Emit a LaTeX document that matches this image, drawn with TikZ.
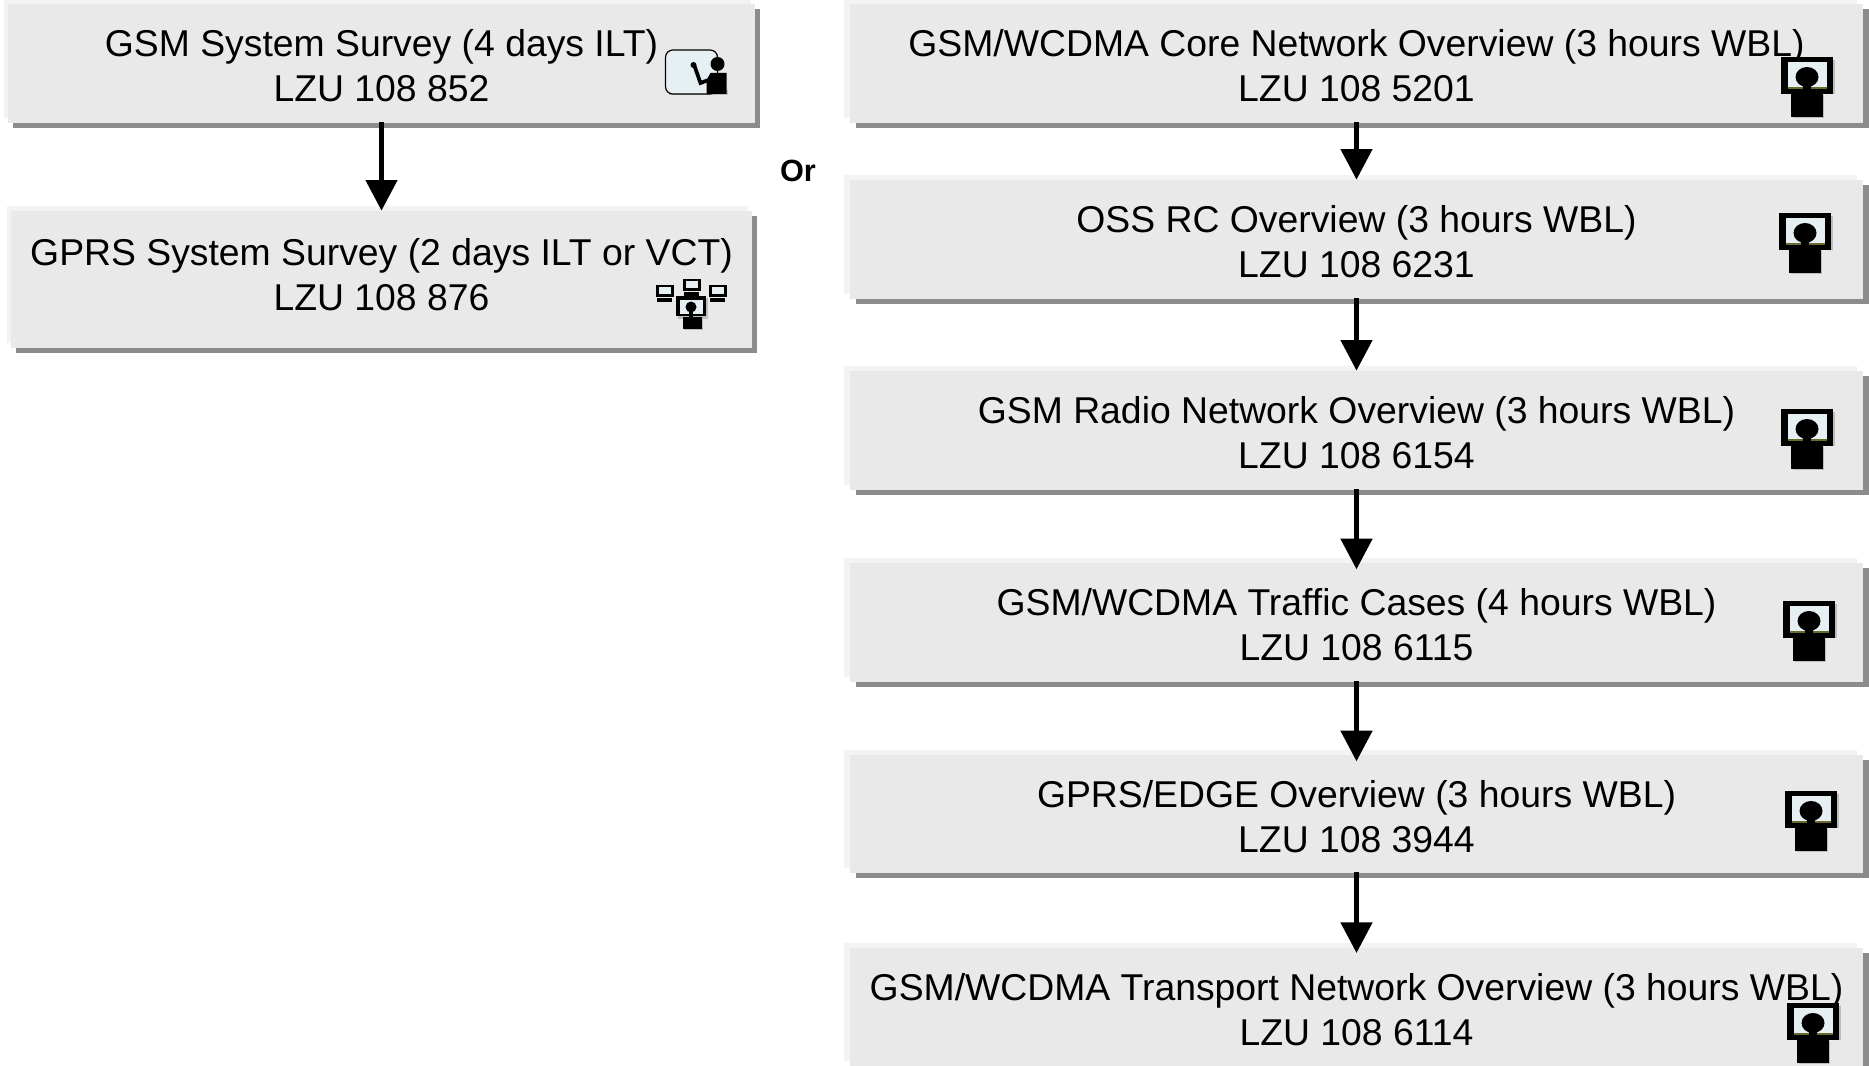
\documentclass[tikz,border=0pt]{standalone}
\usepackage{fontspec}
\setmainfont{Liberation Sans}
\usepackage{xcolor}
\definecolor{boxfill}{HTML}{E9E9E9}
\definecolor{boxlight}{HTML}{F3F3F3}
\definecolor{boxshade}{HTML}{8C8C8C}
\definecolor{screen}{HTML}{E6EFF2}
\definecolor{iconshade}{HTML}{BDBDBD}
\definecolor{screenedge}{HTML}{6B6A2E}
\usepackage{tikz}
\usetikzlibrary{arrows.meta,shadows}
\tikzset{
  coursebox/.style={fill=boxfill, inner sep=0pt, align=center,
    font=\fontsize{28}{33.75}\selectfont, text depth=0pt, text height=57.6pt},
  leftbox/.style={coursebox,
    general shadow={shadow xshift=-3pt, shadow yshift=3.6pt, fill=boxlight},
    general shadow={shadow xshift=3.4pt, shadow yshift=-4pt, fill=boxshade}},
  rightbox/.style={coursebox,
    general shadow={shadow xshift=-4.5pt, shadow yshift=3.6pt, fill=boxlight},
    general shadow={shadow xshift=4.2pt, shadow yshift=-3.6pt, fill=boxshade}},
  flowarrow/.style={line width=4.2pt, -{Triangle[length=23pt,width=23pt]}, shorten <=-1pt},
  wblicon/.pic={
    \fill[iconshade] (3,3) rectangle (54,37);
    \fill[black] (0,0) rectangle (52,37);
    \fill[screen] (7,5) rectangle (46,32);
    \fill[screenedge] (7,30) rectangle (46,32);
    \fill[black] (26,20) circle[x radius=11.5, y radius=10];
    \fill[black] (22,26) rectangle (30,38);
    \fill[iconshade] (12,38) rectangle (43,61);
    \fill[black] (10,37) rectangle (42,60);
  },
  boardicon/.pic={
    \fill[iconshade] (3,40) rectangle (62,45.5);
    \draw[black, fill=screen, line width=0.9pt, rounded corners=5.5pt] (0,0) rectangle (52,44);
    \fill[black] (52,14) circle[radius=7];
    \fill[black] (41,44) -- (41,30) -- (45,23) -- (61,23) -- (61,44) -- cycle;
    \draw[black, line width=2.8pt] (43,30) -- (35,33) -- (29,16);
    \fill[black] (28,15) circle[radius=3];
  },
  vcticon/.pic={
    \foreach \mx/\my in {0/6, 27/0, 53/6} {
      \fill[black] (\mx,\my) rectangle ++(18,12);
      \fill[screen] (\mx+3,\my+2) rectangle ++(12,6.5);
      \fill[black] (\mx+1,\my+13) rectangle ++(15,3.5);
    }
    \fill[iconshade] (22,19) rectangle (52,40);
    \fill[black] (20,17) rectangle (50,37);
    \fill[screen] (24,21) rectangle (47,35);
    \fill[black] (35,28) circle[radius=5.5];
    \fill[black] (33,30) rectangle (37,38);
    \fill[iconshade] (28,40) rectangle (47,51);
    \fill[black] (27,38) rectangle (46,50);
  }
}

\begin{document}
\begin{tikzpicture}[x=0.75pt, y=-0.75pt]
  \useasboundingbox (0,0) rectangle (1869,1066);
  % left column
  \node[leftbox, minimum width=560.25pt, minimum height=89.25pt] (gsm) at (381.5,63.5) {GSM System Survey (4 days ILT)\\LZU 108 852};
  \node[leftbox, text height=46.8pt, minimum width=555.75pt, minimum height=102.75pt] (gprs) at (381.5,279.5) {GPRS System Survey (2 days ILT or VCT)\\LZU 108 876};
  \draw[flowarrow] (gsm) -- (gprs);
  \pic at (665.5,50) {boardicon};
  \pic at (656,279) {vcticon};
  % right column
  \foreach \idx/\lab/\num/\ytop/\ybot/\xicon/\yicon in {
    1/GSM\slash WCDMA Core Network Overview (3 hours WBL)/5201/4/123/1781/57,
    2/OSS RC Overview (3 hours WBL)/6231/180/299/1779/213,
    3/GSM Radio Network Overview (3 hours WBL)/6154/371/490/1781/409,
    4/GSM\slash WCDMA Traffic Cases (4 hours WBL)/6115/563/682/1783/601,
    5/GPRS\slash EDGE Overview (3 hours WBL)/3944/755/873/1785/791,
    6/GSM\slash WCDMA Transport Network Overview (3 hours WBL)/6114/948/1066/1787/1003} {
    \node[rightbox, minimum width=759.75pt, minimum height={(\ybot-\ytop)*0.75pt}] (wbl\idx) at (1356.5,{(\ytop+\ybot)/2}) {\lab\\LZU 108 \num};
    \pic at (\xicon,\yicon) {wblicon};
  }
  \foreach \a/\b/\over in {1/2/0pt,2/3/0pt,3/4/-5pt,4/5/-5pt,5/6/-4pt}
    \draw[flowarrow, shorten >=\over] (wbl\a) -- (wbl\b);
  \node[font=\fontsize{23}{26}\selectfont\bfseries] (ortext) at (798,171) {Or};
\end{tikzpicture}
\end{document}
